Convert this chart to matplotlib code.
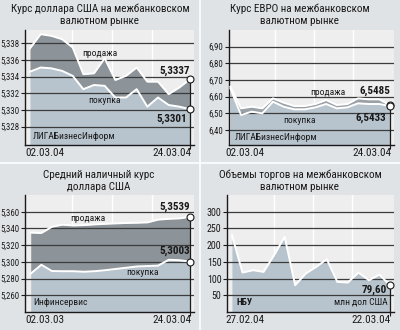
import matplotlib
matplotlib.use("Agg")
import matplotlib.pyplot as plt
from matplotlib import font_manager
from matplotlib.patches import Rectangle

# -----------------------------
# Data (16 trading days per panel)
# -----------------------------
usd_sell = [5.3374, 5.3391, 5.3389, 5.3385, 5.3375, 5.3343, 5.3344, 5.3362,
            5.3336, 5.3341, 5.3351, 5.3334, 5.3334, 5.3319, 5.3327, 5.3337]
usd_buy = [5.3346, 5.3351, 5.3350, 5.3347, 5.3341, 5.3325, 5.3330, 5.3329,
           5.3315, 5.3315, 5.3325, 5.3304, 5.3315, 5.3306, 5.3304, 5.3301]

eur_sell = [6.660, 6.530, 6.540, 6.530, 6.590, 6.564, 6.544, 6.544,
            6.556, 6.580, 6.550, 6.556, 6.590, 6.584, 6.584, 6.5485]
eur_buy = [6.650, 6.490, 6.510, 6.500, 6.570, 6.540, 6.524, 6.524,
           6.536, 6.556, 6.530, 6.536, 6.560, 6.556, 6.556, 6.5433]

cash_sell = [5.3350, 5.3345, 5.3420, 5.3445, 5.3435, 5.3440, 5.3448, 5.3455,
             5.3460, 5.3465, 5.3468, 5.3472, 5.3505, 5.3515, 5.3520, 5.3539]
cash_buy = [5.2860, 5.2965, 5.2890, 5.2888, 5.2888, 5.2882, 5.2888, 5.2900,
            5.2915, 5.2930, 5.2945, 5.2950, 5.2955, 5.3025, 5.3020, 5.3003]

volume = [230, 118, 125, 120, 170, 225, 80, 115, 135, 158, 90, 88, 118, 95, 112, 79.6]

usd_ticks = [5.328, 5.330, 5.332, 5.334, 5.336, 5.338]
eur_ticks = [6.40, 6.50, 6.60, 6.70, 6.80, 6.90]
cash_ticks = [5.260, 5.280, 5.300, 5.320, 5.340, 5.360]
vol_ticks = [50, 100, 150, 200, 250, 300]

usd_dates = ["02.03.04", "24.03.04"]
eur_dates = ["02.03.04", "24.03.04"]
cash_dates = ["02.03.03", "24.03.04"]
vol_dates = ["27.02.04", "22.03.04"]

# -----------------------------
# Style
# -----------------------------
W, H = 400, 330
panel_bg = "#e0e3e6"
plot_bg = "#eeeeee"
dark_fill = "#8c9399"
band_fill = "#9aa1a7"
light_fill = "#b7c3cd"
grid_col = "#3c3c3c"
ink = "#1a1a1a"

names = {f.name for f in font_manager.fontManager.ttflist}
narrow = next((n for n in ["Liberation Sans Narrow", "Roboto Condensed"] if n in names),
              "DejaVu Sans")
plt.rcParams["font.family"] = [narrow, "DejaVu Sans"]
plt.rcParams["font.stretch"] = "condensed"


def fx(x):
    return x / W


def fy(y):
    return 1 - y / H


def make_axes(fig, x0, y0, x1, y1, tick_size=6.3):
    ax = fig.add_axes([fx(x0), fy(y1), fx(x1 - x0), (y1 - y0) / H])
    ax.set_facecolor(plot_bg)
    for s in ["top", "right"]:
        ax.spines[s].set_visible(False)
    for s in ["left", "bottom"]:
        ax.spines[s].set_color(ink)
        ax.spines[s].set_linewidth(1.0)
    ax.tick_params(axis="y", length=3, width=0.8, color=ink, pad=1,
                   labelsize=tick_size, labelcolor=ink)
    ax.tick_params(axis="x", length=3, width=0.8, color=ink, labelbottom=False)
    # white vertical guides behind the data
    for f in [0.28, 0.515, 0.75]:
        ax.plot([f, f], [0, 1], transform=ax.transAxes, color="white",
                lw=1.0, zorder=0.5)
    return ax


def setup_y(ax, ticks, lo, hi, fmt):
    ax.set_ylim(lo, hi)
    ax.set_yticks(ticks)
    ax.set_yticklabels([fmt.format(t).replace(".", ",") for t in ticks])
    for t in ticks:
        ax.axhline(t, color=grid_col, lw=0.9, zorder=2)


def end_marker(ax, x, vals, lo):
    top = max(vals)
    ax.plot([x, x], [lo, top], color=ink, lw=0.9, zorder=4, clip_on=False)
    for v in vals:
        ax.plot(x, v, "o", ms=5, mfc="white", mec=ink, mew=0.8, zorder=5,
                clip_on=False)


def value_label(ax, x, y, text, dx, dy):
    ax.annotate(text, (x, y), xytext=(dx, dy), textcoords="offset points",
                ha="right", va="center", fontsize=8, fontweight="bold",
                color=ink, zorder=6)


def date_labels(fig, labels, xl, xr, y):
    fig.text(fx(xl), fy(y), labels[0], ha="left", va="center", fontsize=8.0, color=ink)
    fig.text(fx(xr), fy(y), labels[1], ha="right", va="center", fontsize=8.0, color=ink)


def title(fig, lines, xc, y0):
    for k, line in enumerate(lines):
        fig.text(fx(xc), fy(y0 + 12 * k), line, ha="center", va="center",
                 fontsize=8.0, color=ink)


fig = plt.figure(figsize=(W / 100, H / 100), dpi=100)
fig.patch.set_facecolor("white")
for (x0, y0, x1, y1) in [(0, 0, 198, 161), (201, 0, 400, 161),
                         (0, 164, 198, 330), (201, 164, 400, 330)]:
    fig.patches.append(Rectangle((fx(x0), fy(y1)), (x1 - x0) / W, (y1 - y0) / H,
                                 transform=fig.transFigure, color=panel_bg, zorder=-1))

n = len(usd_sell)
xs = list(range(n))
last = n - 1

# -----------------------------
# USD interbank
# -----------------------------
ax1 = make_axes(fig, 25, 30, 194, 145)
lo, hi = 5.3258, 5.3396
setup_y(ax1, usd_ticks, lo, hi, "{:.3f}")
ax1.set_xlim(-0.47, 15.375)
ax1.fill_between(xs, usd_buy, usd_sell, color=dark_fill, lw=0, zorder=1)
ax1.fill_between(xs, lo, usd_buy, color=light_fill, lw=0, zorder=1)
ax1.plot(xs, usd_sell, color="white", lw=1.4, zorder=3)
ax1.plot(xs, usd_buy, color="white", lw=1.4, zorder=3)
ax1.set_xticks([last])
end_marker(ax1, last, [usd_sell[-1], usd_buy[-1]], lo)
value_label(ax1, last, usd_sell[-1], "{:.4f}".format(usd_sell[-1]).replace(".", ","), 0, 6)
value_label(ax1, last, usd_buy[-1], "{:.4f}".format(usd_buy[-1]).replace(".", ","), -2, -7)
ax1.text(0.444, 0.80, "продажа", transform=ax1.transAxes, ha="center", va="center",
         fontsize=6.8, color=ink, zorder=6)
ax1.text(0.473, 0.383, "покупка", transform=ax1.transAxes, ha="center", va="center",
         fontsize=6.8, color=ink, zorder=6)
ax1.text(0.047, 0.07, "ЛИГАБизнесИнформ", transform=ax1.transAxes, ha="left",
         va="center", fontsize=6.8, color=ink, zorder=6)
title(fig, ["Курс доллара США на межбанковском", "валютном рынке"], 100, 8.5)
date_labels(fig, usd_dates, 25, 191, 152.5)

# -----------------------------
# EUR interbank
# -----------------------------
ax2 = make_axes(fig, 229, 30, 394, 145)
lo, hi = 6.31, 7.0
setup_y(ax2, eur_ticks, lo, hi, "{:.2f}")
ax2.set_xlim(-0.13, 15.38)
ax2.fill_between(xs, eur_buy, eur_sell, color=band_fill, lw=0, zorder=1)
ax2.fill_between(xs, lo, eur_buy, color=light_fill, lw=0, zorder=1)
ax2.plot(xs, eur_sell, color="white", lw=1.4, zorder=3)
ax2.plot(xs, eur_buy, color="white", lw=1.4, zorder=3)
ax2.set_xticks([last])
end_marker(ax2, last, [eur_sell[-1], eur_buy[-1]], lo)
value_label(ax2, last, eur_sell[-1], "{:.4f}".format(eur_sell[-1]).replace(".", ","), 0, 10.5)
value_label(ax2, last, eur_buy[-1], "{:.4f}".format(eur_buy[-1]).replace(".", ","), -3, -8.7)
ax2.text(0.60, 0.455, "продажа", transform=ax2.transAxes, ha="center", va="center",
         fontsize=6.8, color=ink, zorder=6)
ax2.text(0.43, 0.211, "покупка", transform=ax2.transAxes, ha="center", va="center",
         fontsize=6.8, color=ink, zorder=6)
ax2.text(0.036, 0.068, "ЛИГАБизнесИнформ", transform=ax2.transAxes, ha="left",
         va="center", fontsize=6.8, color=ink, zorder=6)
title(fig, ["Курс ЕВРО на межбанковском", "валютном рынке"], 300, 8.5)
date_labels(fig, eur_dates, 225, 391, 152.5)

# -----------------------------
# USD cash average
# -----------------------------
ax3 = make_axes(fig, 25, 195, 194, 312)
lo, hi = 5.24, 5.38
setup_y(ax3, cash_ticks, lo, hi, "{:.3f}")
ax3.set_xlim(-0.54, 15.38)
ax3.fill_between(xs, cash_buy, cash_sell, color=dark_fill, lw=0, zorder=1)
ax3.fill_between(xs, lo, cash_buy, color=light_fill, lw=0, zorder=1)
ax3.plot(xs, cash_sell, color="white", lw=1.4, zorder=3)
ax3.plot(xs, cash_buy, color="white", lw=1.4, zorder=3)
ax3.set_xticks([last])
end_marker(ax3, last, [cash_sell[-1], cash_buy[-1]], lo)
value_label(ax3, last, cash_sell[-1], "{:.4f}".format(cash_sell[-1]).replace(".", ","), 0, 7.3)
value_label(ax3, last, cash_buy[-1], "{:.4f}".format(cash_buy[-1]).replace(".", ","), 0, 7.5)
ax3.text(0.373, 0.795, "продажа", transform=ax3.transAxes, ha="center", va="center",
         fontsize=6.8, color=ink, zorder=6)
ax3.text(0.698, 0.336, "покупка", transform=ax3.transAxes, ha="center", va="center",
         fontsize=6.8, color=ink, zorder=6)
ax3.text(0.047, 0.083, "Инфинсервис", transform=ax3.transAxes, ha="left",
         va="center", fontsize=6.8, color=ink, zorder=6)
title(fig, ["Средний наличный курс", "доллара США"], 99, 174.5)
date_labels(fig, cash_dates, 25, 191, 320)

# -----------------------------
# Interbank volume
# -----------------------------
ax4 = make_axes(fig, 227, 195, 394, 312, tick_size=7.2)
lo, hi = 0, 350
setup_y(ax4, vol_ticks, lo, hi, "{:.0f}")
ax4.set_xlim(-0.47, 15.38)
ax4.fill_between(xs, lo, volume, color=light_fill, lw=0, zorder=1)
ax4.plot(xs, volume, color="white", lw=1.4, zorder=3)
ax4.set_xticks([last])
end_marker(ax4, last, [volume[-1]], lo)
value_label(ax4, last, volume[-1], "{:.2f}".format(volume[-1]).replace(".", ","), -2, -3.5)
ax4.text(0.054, 0.085, "НБУ", transform=ax4.transAxes, ha="left", va="center",
         fontsize=6.8, fontweight="bold", color=ink, zorder=6)
ax4.text(0.964, 0.085, "млн дол США", transform=ax4.transAxes, ha="right",
         va="center", fontsize=6.8, color=ink, zorder=6)
title(fig, ["Объемы торгов на межбанковском", "валютном рынке"], 300, 174.5)
date_labels(fig, vol_dates, 225, 391, 320)

fig.savefig("out.png", dpi=100, facecolor=fig.get_facecolor())
